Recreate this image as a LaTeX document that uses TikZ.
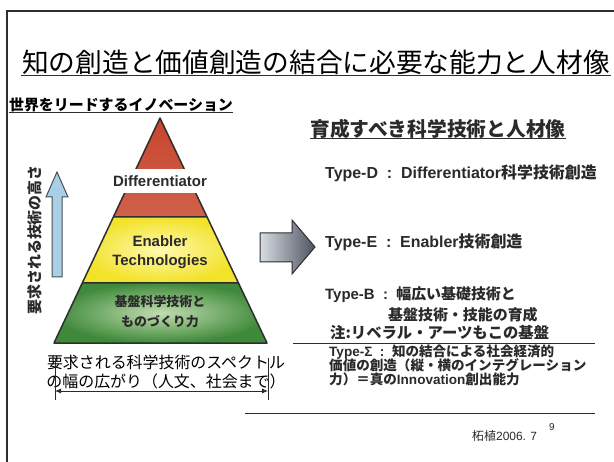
\documentclass[tikz,border=0pt]{standalone}
\usepackage{fontspec}
\setmainfont{Liberation Sans}
\newfontfamily\jafont{Noto Sans CJK JP}
\newcommand{\ja}[1]{{\jafont #1}}
\usetikzlibrary{calc,arrows.meta,positioning}
\definecolor{framegray}{HTML}{2E2E2E}
\definecolor{textgray}{HTML}{2A2A2A}
\definecolor{pyrred}{HTML}{C8452C}
\definecolor{pyrredlight}{HTML}{FBE6DC}
\definecolor{pyryellow}{HTML}{F2E22A}
\definecolor{pyryellowlight}{HTML}{FFF9B0}
\definecolor{pyrgreen}{HTML}{3F8A3A}
\definecolor{pyrgreenlight}{HTML}{C2DDB0}
\definecolor{arrowblue}{HTML}{A9CFE6}
\definecolor{arrowlight}{HTML}{D8DCE4}
\definecolor{arrowdark}{HTML}{4E5360}
\begin{document}
\begin{tikzpicture}[x=1bp,y=-1bp,
    uline/.style={line width=1bp, framegray},
    layeredge/.style={draw=framegray, line width=1.5bp, line join=round},
    pyrlabel/.style={inner sep=0pt, align=center, text=textgray, font=\bfseries\fontsize{15}{19}\selectfont},
    typeline/.style={anchor=west, inner sep=0pt, text=textgray, font=\bfseries\fontsize{15}{18}\selectfont},
    sigmaline/.style={typeline, font=\bfseries\fontsize{13.6}{15}\selectfont}]
\fill[white] (0,0) rectangle (614,462);
% Rahmen
\fill[framegray] (6,10) rectangle (614,12.2);
\fill[framegray] (6,10) rectangle (8.2,462);

% Titel
\node[inner sep=1pt, font=\jafont\fontsize{26.8}{30}\selectfont] (title) at (316,62) {知の創造と価値創造の結合に必要な能力と人材像};
\draw[uline] (title.south west) -- (title.south east);
\node[inner sep=0pt, font=\jafont\bfseries\fontsize{15}{18}\selectfont] (lead) at (121,105) {世界をリードするイノベーション};
\draw[uline] (lead.south west) -- (lead.south east);
\node[inner sep=0pt, text=textgray, font=\jafont\bfseries\fontsize{19.8}{22}\selectfont] (goal) at (438,129) {育成すべき科学技術と人材像};
\draw[uline] (goal.south west) -- (goal.south east);

% Pyramide
\coordinate (apex) at (160,118);
\coordinate (bl) at (54,343);
\coordinate (br) at (267,343);
\coordinate (rl) at ($(apex)!0.44!(bl)$);
\coordinate (rr) at ($(apex)!0.44!(br)$);
\coordinate (yl) at ($(apex)!0.733!(bl)$);
\coordinate (yr) at ($(apex)!0.733!(br)$);
\shade[top color=pyrred, middle color=pyrredlight, bottom color=pyrred!85!white] (apex) -- (rr) -- (rl) -- cycle;
\shade[inner color=pyryellowlight, outer color=pyryellow] (rl) -- (rr) -- (yr) -- (yl) -- cycle;
\shade[inner color=pyrgreenlight, outer color=pyrgreen] (yl) -- (yr) -- (br) -- (bl) -- cycle;
\draw[layeredge] (apex) -- (br) -- (bl) -- cycle (rl) -- (rr) (yl) -- (yr);

\node[pyrlabel, fill=white, inner xsep=1pt, minimum height=24] (diff) at (160,181) {Differentiator};
\node[pyrlabel] (enabler) at (160,252) {Enabler\\Technologies};
\node[pyrlabel, font=\jafont\bfseries\fontsize{13}{20}\selectfont] (base) at (160,312) {基盤科学技術と\\ものづくり力};

% Hoehe
\filldraw[fill=arrowblue, draw=framegray!80!arrowblue, line width=1bp]
  (52,277) -- (52,197) -- (46,197) -- (57,172) -- (68,197) -- (62,197) -- (62,277) -- cycle;
\node[rotate=90, inner sep=0pt, text=textgray, font=\jafont\bfseries\fontsize{15}{18}\selectfont] (height) at (35,240) {要求される技術の高さ};

% Breite
\node[inner sep=0pt, align=center, font=\jafont\fontsize{16}{20}\selectfont] (spectrum) at (166,372) {要求される科学技術のスペクトル\\の幅の広がり（人文、社会まで）};
\coordinate (spanL) at (55,391);
\coordinate (spanR) at (268,391);
\draw[textgray, line width=0.8bp, {Latex[length=6bp,width=5bp]}-{Latex[length=6bp,width=5bp]}] (spanL) -- (spanR);
\draw[textgray, line width=0.8bp] ([yshift=33bp]spanL) -- ([yshift=-9bp]spanL);
\draw[textgray, line width=0.8bp] ([yshift=33bp]spanR) -- ([yshift=-9bp]spanR);

% Pfeil
\shade[left color=arrowlight, right color=arrowdark, draw=framegray, line width=1bp]
  (260,233) -- (292,233) -- (292,220) -- (315,247) -- (292,274) -- (292,262) -- (260,262) -- cycle;

% Typen
\node[typeline, font=\bfseries\fontsize{16}{18}\selectfont] (typeD) at (325,173) {Type-D \ :\ \ Differentiator\ja{科学技術創造}};
\node[typeline, font=\bfseries\fontsize{16}{18}\selectfont] (typeE) at (325,242) {Type-E \ :\ \ Enabler\ja{技術創造}};
\node[typeline] (typeB) at (325,295) {Type-B \ :\ \ \ja{幅広い基礎技術と}};
\node[typeline] (typeB2) at (388,315) {\ja{基盤技術・技能の育成}};
\node[typeline, font=\jafont\bfseries\fontsize{15.4}{18}\selectfont] (note) at (330,333) {注:リベラル・アーツもこの基盤};
\draw[uline] (293,343) -- (595,343);
\node[sigmaline] (typeS) at (329,352) {Type-Σ \ :\ \ \ja{知の結合による社会経済的}};
\node[sigmaline] (typeS2) at (329,365.5) {\ja{価値の創造（縦・横のインテグレーション}};
\node[sigmaline] (typeS3) at (329,379) {\ja{力）＝真の}Innovation\ja{創出能力}};
\draw[uline] (245,413) -- (595,413);

% Fusszeile
\node[anchor=west, inner sep=0pt, text=textgray, font=\fontsize{12}{14}\selectfont] (sign) at (472,436) {\ja{柘植}2006. 7};
\node[inner sep=0pt, text=textgray, font=\fontsize{10}{12}\selectfont] (page) at (552,427) {9};
\end{tikzpicture}
\end{document}
